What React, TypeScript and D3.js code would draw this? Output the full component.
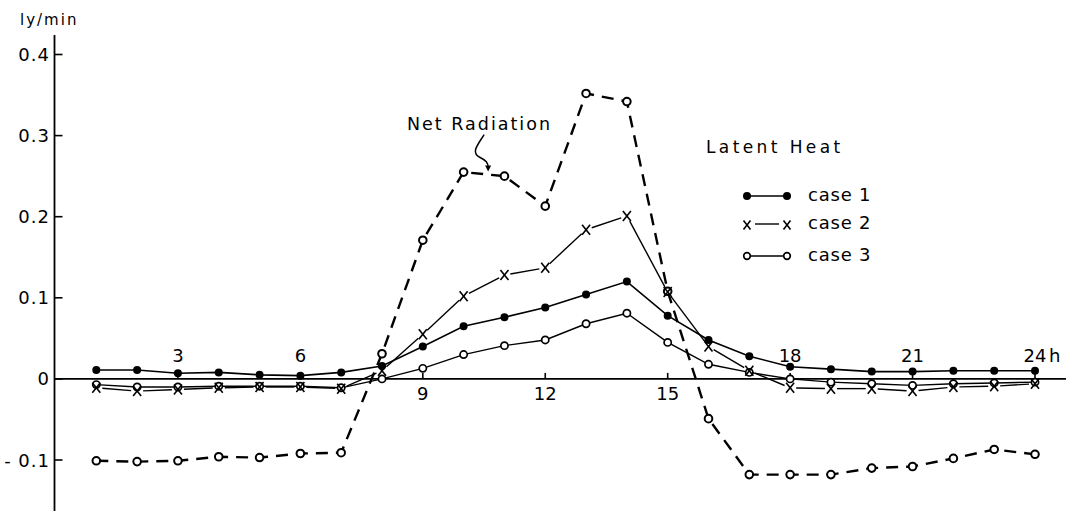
import React from "react";
import * as d3 from "d3";

const hours = [1, 2, 3, 4, 5, 6, 7, 8, 9, 10, 11, 12, 13, 14, 15, 16, 17, 18, 19, 20, 21, 22, 23, 24];
const netRadiation = [-0.101, -0.102, -0.101, -0.096, -0.097, -0.092, -0.091, 0.031, 0.171, 0.255, 0.25, 0.213, 0.352, 0.342, 0.108, -0.049, -0.118, -0.118, -0.118, -0.11, -0.108, -0.098, -0.087, -0.093];
const case1 = [0.011, 0.011, 0.007, 0.008, 0.005, 0.004, 0.008, 0.016, 0.04, 0.065, 0.076, 0.088, 0.104, 0.12, 0.078, 0.048, 0.028, 0.015, 0.012, 0.009, 0.009, 0.01, 0.01, 0.01];
const case2 = [-0.011, -0.015, -0.013, -0.011, -0.01, -0.01, -0.012, 0.01, 0.055, 0.102, 0.128, 0.137, 0.184, 0.201, 0.107, 0.04, 0.01, -0.011, -0.012, -0.012, -0.015, -0.01, -0.009, -0.006];
const case3 = [-0.007, -0.01, -0.01, -0.009, -0.009, -0.009, -0.011, 0.0, 0.013, 0.03, 0.041, 0.048, 0.068, 0.081, 0.045, 0.018, 0.008, 0.0, -0.004, -0.006, -0.008, -0.006, -0.005, -0.004];
const yTicks = [0.4, 0.3, 0.2, 0.1, 0, -0.1];
const yTickLabels = ["0.4", "0.3", "0.2", "0.1", "0", "- 0.1"];
const xTicks = [3, 6, 9, 12, 15, 18, 21, 24];
const xTickLabels = ["3", "6", "9", "12", "15", "18", "21", "24"];
const xLabelsBelow = [false, false, true, true, true, false, false, false];
const legendLabels = ["case 1", "case 2", "case 3"];

const W = 1066;
const H = 511;
const FONT = "'DejaVu Sans', sans-serif";

export default function App() {
  const x = d3.scaleLinear().domain([0, 24]).range([55.5, 1035]);
  const y = d3.scaleLinear().domain([-0.1, 0.4]).range([460, 54.5]);
  const axisX = 54.5;
  const y0 = y(0);

  const line = d3
    .line<number>()
    .x((_, i) => x(hours[i]))
    .y((d) => y(d));

  const pts = (vals: number[]) => vals.map((v, i) => [x(hours[i]), y(v)] as [number, number]);

  // case 2 segments with small gaps around x markers
  const c2 = pts(case2);
  const gap = 6;
  const c2Segs = c2.slice(0, -1).map((p, i) => {
    const q = c2[i + 1];
    const dx = q[0] - p[0];
    const dy = q[1] - p[1];
    const len = Math.hypot(dx, dy);
    const ux = dx / len;
    const uy = dy / len;
    return [p[0] + ux * gap, p[1] + uy * gap, q[0] - ux * gap, q[1] - uy * gap];
  });

  const xMark = (cx: number, cy: number, key: string | number, s = 4) => (
    <g key={key} stroke="#000" strokeWidth={1.6}>
      <line x1={cx - s} y1={cy - s - 1} x2={cx + s} y2={cy + s + 1} />
      <line x1={cx + s} y1={cy - s - 1} x2={cx - s} y2={cy + s + 1} />
    </g>
  );

  // arrow anchor (annotation pointing at the net radiation curve between 10h and 11h)
  const ax = x(10.6);
  const ay = y(0.252) - 4;

  const legX1 = 747;
  const legX2 = 787;
  const legY = [196, 224, 256];

  return (
    <div style={{ position: "absolute", left: 0, top: 0 }}>
      <svg width={W} height={H} style={{ display: "block", background: "#fff" }} fontFamily={FONT}>
        <rect width={W} height={H} fill="#fff" />
        {/* axes */}
        <line x1={axisX} y1={35} x2={axisX} y2={H} stroke="#000" strokeWidth={1.8} />
        <line x1={axisX} y1={y0} x2={1066} y2={y0} stroke="#000" strokeWidth={1.6} />
        {yTicks.map((t, i) => (
          <g key={"yt" + i}>
            <line x1={axisX} x2={axisX + 8} y1={y(t)} y2={y(t)} stroke="#000" strokeWidth={1.6} />
            <text x={50} y={y(t) + 6.5} fontSize={18} textAnchor="end" letterSpacing={1}>
              {yTickLabels[i]}
            </text>
          </g>
        ))}
        <text x={20} y={25} fontSize={15} letterSpacing={2}>
          ly/min
        </text>
        {xTicks.map((t, i) => (
          <g key={"xt" + i}>
            <line x1={x(t)} x2={x(t)} y1={y0} y2={y0 - 6} stroke="#000" strokeWidth={1.6} />
            <text
              x={x(t)}
              y={xLabelsBelow[i] ? y0 + 21 : y0 - 17}
              fontSize={18}
              textAnchor="middle"
            >
              {xTickLabels[i]}
            </text>
          </g>
        ))}
        <text x={x(24) + 14} y={y0 - 17} fontSize={18}>
          h
        </text>

        {/* net radiation dashed */}
        <path d={line(netRadiation) || ""} fill="none" stroke="#000" strokeWidth={2.4} strokeDasharray="12,8" />
        {/* case 1 */}
        <path d={line(case1) || ""} fill="none" stroke="#000" strokeWidth={1.6} />
        {/* case 3 */}
        <path d={line(case3) || ""} fill="none" stroke="#000" strokeWidth={1.4} />
        {/* case 2 */}
        {c2Segs.map((s, i) => (
          <line key={"c2s" + i} x1={s[0]} y1={s[1]} x2={s[2]} y2={s[3]} stroke="#000" strokeWidth={1.4} />
        ))}

        {pts(netRadiation).map((p, i) => (
          <circle key={"nr" + i} cx={p[0]} cy={p[1]} r={3.8} fill="#fff" stroke="#000" strokeWidth={2} />
        ))}
        {pts(case3).map((p, i) => (
          <circle key={"c3" + i} cx={p[0]} cy={p[1]} r={3.6} fill="#fff" stroke="#000" strokeWidth={1.7} />
        ))}
        {c2.map((p, i) => xMark(p[0], p[1], "c2m" + i))}
        {pts(case1).map((p, i) => (
          <circle key={"c1" + i} cx={p[0]} cy={p[1]} r={4} fill="#000" />
        ))}

        {/* Net Radiation annotation */}
        <text x={407} y={130} fontSize={17.5} letterSpacing={2}>
          Net Radiation
        </text>
        <path
          d={`M${ax - 4},${ay - 36} C${ax - 10},${ay - 26} ${ax - 18},${ay - 18} ${ax - 8},${ay - 13} C${ax - 2},${ay - 10} ${ax},${ay - 8} ${ax},${ay - 3}`}
          fill="none"
          stroke="#000"
          strokeWidth={1.5}
        />
        <path d={`M${ax - 3},${ay - 5} L${ax + 3},${ay - 5} L${ax},${ay + 1} Z`} fill="#000" />

        {/* legend */}
        <text x={706} y={153} fontSize={17} letterSpacing={3.4}>
          Latent Heat
        </text>
        <line x1={legX1} x2={legX2} y1={legY[0]} y2={legY[0]} stroke="#000" strokeWidth={1.6} />
        <circle cx={legX1} cy={legY[0]} r={4} fill="#000" />
        <circle cx={legX2} cy={legY[0]} r={4} fill="#000" />
        <line x1={legX1 + 8} x2={legX2 - 8} y1={legY[1]} y2={legY[1]} stroke="#000" strokeWidth={1.4} />
        {xMark(legX1, legY[1] + 1, "lx1", 3.5)}
        {xMark(legX2, legY[1] + 1, "lx2", 3.5)}
        <line x1={legX1} x2={legX2} y1={legY[2]} y2={legY[2]} stroke="#000" strokeWidth={1.4} />
        <circle cx={legX1} cy={legY[2]} r={3.3} fill="#fff" stroke="#000" strokeWidth={1.7} />
        <circle cx={legX2} cy={legY[2]} r={3.3} fill="#fff" stroke="#000" strokeWidth={1.7} />
        {legendLabels.map((l, i) => (
          <text key={"ll" + i} x={808} y={legY[i] + 5} fontSize={18} letterSpacing={0.8}>
            {l}
          </text>
        ))}
      </svg>
    </div>
  );
}
